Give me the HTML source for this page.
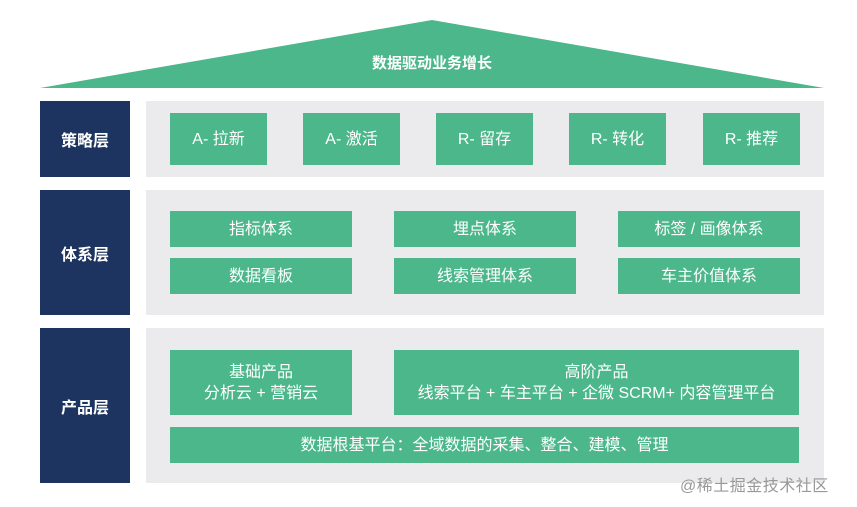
<!DOCTYPE html>
<html><head><meta charset="utf-8"><style>
body{margin:0;width:857px;height:507px;background:#fff;position:relative;overflow:hidden;font-family:"Liberation Sans","Noto Sans CJK SC",sans-serif;}
.a{position:absolute;box-sizing:border-box;}
.d{background:#1d3461;color:#fff;font-weight:bold;font-size:16px;display:flex;align-items:center;justify-content:center;}
.g{background:#ebebee;}
.b{background:#4cb78b;color:#fff;font-size:16px;display:flex;align-items:center;justify-content:center;text-align:center;line-height:21px;}
</style></head><body>
<svg class="a" style="left:0;top:0" width="857" height="100"><polygon points="40,88 432,20 824,88" fill="#4cb78b"/></svg>
<div class="a" style="left:0;top:52px;width:864px;text-align:center;color:#fff;font-weight:bold;font-size:15px;">数据驱动业务增长</div>

<div class="a d" style="left:40px;top:101px;width:90px;height:76px;">策略层</div>
<div class="a g" style="left:146px;top:101px;width:678px;height:76px;"></div>
<div class="a b" style="left:170px;top:113px;width:97px;height:52px;">A- 拉新</div>
<div class="a b" style="left:303px;top:113px;width:97px;height:52px;">A- 激活</div>
<div class="a b" style="left:436px;top:113px;width:97px;height:52px;">R- 留存</div>
<div class="a b" style="left:569px;top:113px;width:97px;height:52px;">R- 转化</div>
<div class="a b" style="left:703px;top:113px;width:97px;height:52px;">R- 推荐</div>

<div class="a d" style="left:40px;top:190px;width:90px;height:125px;">体系层</div>
<div class="a g" style="left:146px;top:190px;width:678px;height:125px;"></div>
<div class="a b" style="left:170px;top:211px;width:182px;height:36px;">指标体系</div>
<div class="a b" style="left:394px;top:211px;width:182px;height:36px;">埋点体系</div>
<div class="a b" style="left:618px;top:211px;width:182px;height:36px;">标签 / 画像体系</div>
<div class="a b" style="left:170px;top:258px;width:182px;height:36px;">数据看板</div>
<div class="a b" style="left:394px;top:258px;width:182px;height:36px;">线索管理体系</div>
<div class="a b" style="left:618px;top:258px;width:182px;height:36px;">车主价值体系</div>

<div class="a d" style="left:40px;top:328px;width:90px;height:155px;">产品层</div>
<div class="a g" style="left:146px;top:328px;width:678px;height:155px;"></div>
<div class="a b" style="left:170px;top:350px;width:182px;height:65px;">基础产品<br>分析云 + 营销云</div>
<div class="a b" style="left:394px;top:350px;width:405px;height:65px;">高阶产品<br>线索平台 + 车主平台 + 企微 SCRM+ 内容管理平台</div>
<div class="a b" style="left:170px;top:427px;width:629px;height:36px;">数据根基平台：全域数据的采集、整合、建模、管理</div>
<div class="a" style="left:680px;top:472px;color:#999;font-size:16px;letter-spacing:0.5px;">@稀土掘金技术社区</div>
</body></html>
